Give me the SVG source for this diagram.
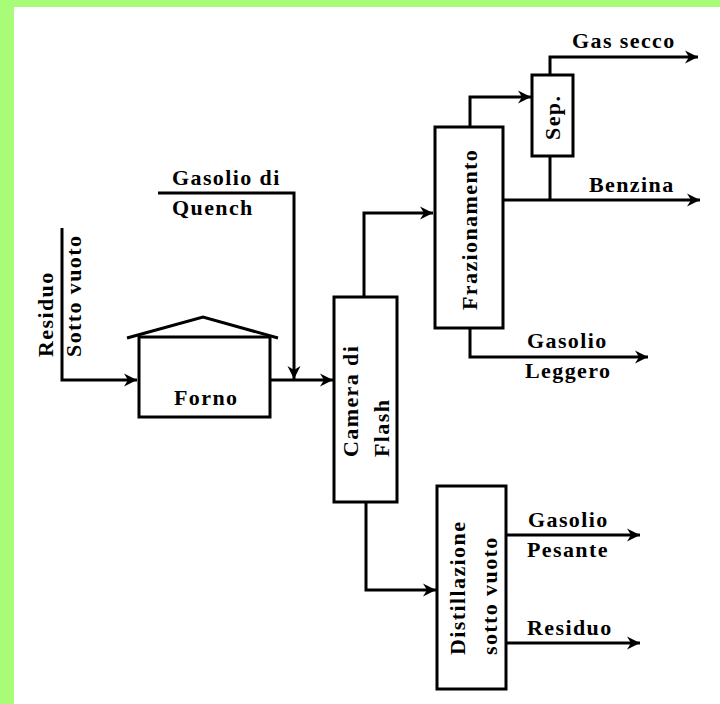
<svg xmlns="http://www.w3.org/2000/svg" width="720" height="704" viewBox="0 0 720 704">
<style>
.ln{fill:none;stroke:#000;stroke-width:3;stroke-linejoin:miter}
.bx{fill:#fff;stroke:#000;stroke-width:3}
.t{font-family:"Liberation Serif","Times New Roman",serif;font-weight:bold;font-size:22px;letter-spacing:1.4px;fill:#000}
</style>
<defs>
<marker id="ar" markerUnits="userSpaceOnUse" markerWidth="14" markerHeight="14" refX="13" refY="7" orient="auto">
<path d="M0,0.5 L13,7 L0,13.5 L4,7 z" fill="#000"/>
</marker>
</defs>
<rect width="720" height="704" fill="#fff"/>
<rect x="0" y="0" width="720" height="7" fill="#a8fc78"/>
<rect x="0" y="0" width="14" height="704" fill="#a8fc78"/>
<g id="connectors">
<polyline class="ln" points="62,228 62,380 137,380" marker-end="url(#ar)"/>
<polyline class="ln" points="158,193 294,193 294,379" marker-end="url(#ar)"/>
<line class="ln" x1="270" y1="380" x2="333" y2="380" marker-end="url(#ar)"/>
<polyline class="ln" points="364,297 364,213 433,213" marker-end="url(#ar)"/>
<polyline class="ln" points="470,127 470,97 531,97" marker-end="url(#ar)"/>
<polyline class="ln" points="550,75 550,57 698,57" marker-end="url(#ar)"/>
<line class="ln" x1="550" y1="156" x2="550" y2="200"/>
<line class="ln" x1="501" y1="200" x2="700" y2="200" marker-end="url(#ar)"/>
<polyline class="ln" points="470,328 470,357 648,357" marker-end="url(#ar)"/>
<polyline class="ln" points="366,502 366,590 436,590" marker-end="url(#ar)"/>
<line class="ln" x1="506" y1="535" x2="640" y2="535" marker-end="url(#ar)"/>
<line class="ln" x1="506" y1="643" x2="640" y2="643" marker-end="url(#ar)"/>
</g>
<g id="labels">
<text class="t" transform="translate(53,357) rotate(-90)">Residuo</text>
<text class="t" transform="translate(81,357) rotate(-90)">Sotto vuoto</text>
<text class="t" x="172" y="185">Gasolio di</text>
<text class="t" x="172" y="215">Quench</text>
<text class="t" x="572" y="48">Gas secco</text>
<text class="t" x="589" y="192">Benzina</text>
<text class="t" x="527" y="348">Gasolio</text>
<text class="t" x="525" y="378">Leggero</text>
<text class="t" x="528" y="527">Gasolio</text>
<text class="t" x="527" y="557">Pesante</text>
<text class="t" x="527" y="635">Residuo</text>
</g>
<g id="forno">
<rect class="bx" x="139" y="337" width="131" height="80"/>
<polyline class="ln" points="127,338 203,317 278,338"/>
<text class="t" x="174" y="405">Forno</text>
</g>
<g id="camera">
<rect class="bx" x="334" y="297" width="63" height="205"/>
<text class="t" transform="translate(358,457) rotate(-90)">Camera di</text>
<text class="t" transform="translate(389,457) rotate(-90)">Flash</text>
</g>
<g id="frazionamento">
<rect class="bx" x="435" y="127" width="68" height="201"/>
<text class="t" transform="translate(477,310) rotate(-90)">Frazionamento</text>
</g>
<g id="sep">
<rect class="bx" x="532" y="75" width="41" height="81"/>
<text class="t" transform="translate(560,140) rotate(-90)">Sep.</text>
</g>
<g id="distillazione">
<rect class="bx" x="437" y="486" width="69" height="203"/>
<text class="t" transform="translate(465,655) rotate(-90)">Distillazione</text>
<text class="t" transform="translate(497,655) rotate(-90)">sotto vuoto</text>
</g>
</svg>
